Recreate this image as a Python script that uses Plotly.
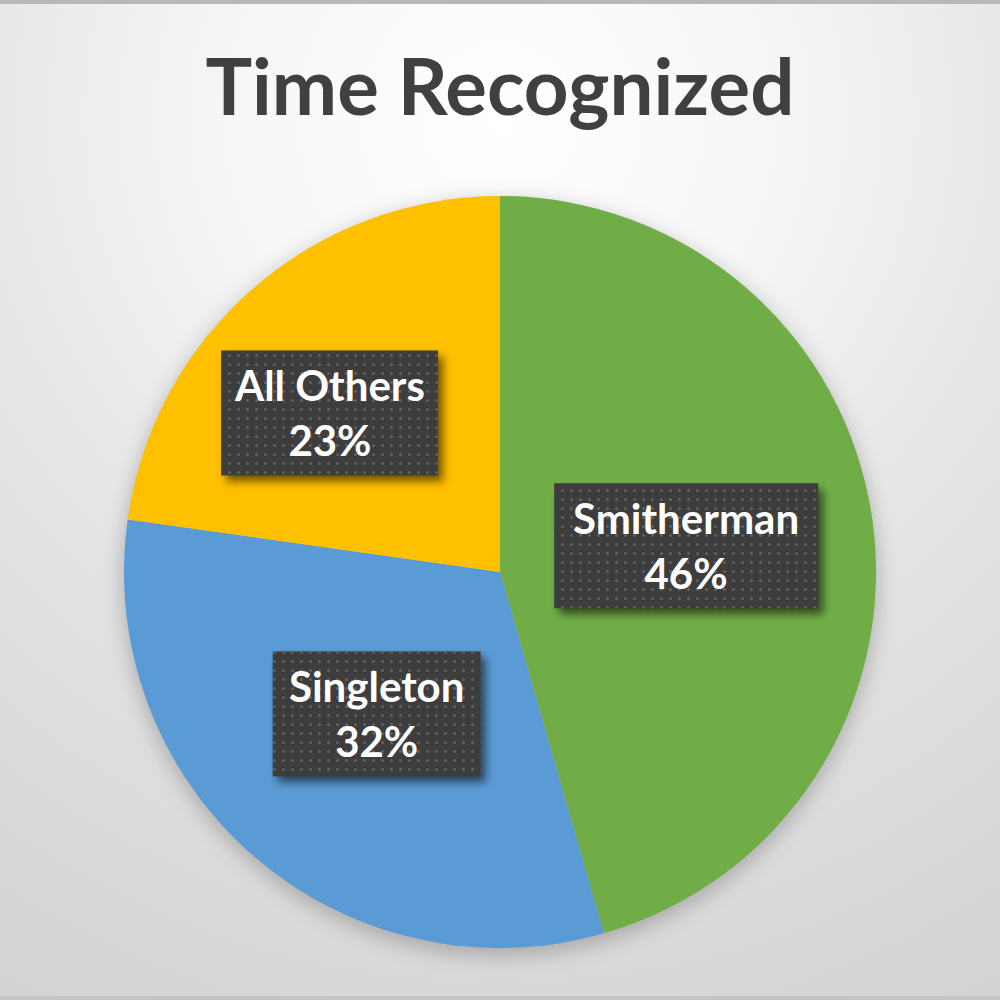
import math
import base64
import plotly.graph_objects as go

# ---- data ----
categories = ["Smitherman", "Singleton", "All Others"]
values = [46, 32, 23]
colors = ["#70ad47", "#5b9bd5", "#ffc000"]
title_text = "Time Recognized"

# ---- style ----
W = H = 1000
pie_x = [0.124, 0.876]
pie_y = [0.052, 0.804]
label_radius = [0.50, 0.50, 0.62]   # fraction of pie radius
label_nudge_deg = [0, 0, -6]
box_w = [264, 208, 217]             # label box sizes in px
box_h = 125
font_family = "Lato"

cx = (pie_x[0] + pie_x[1]) / 2
cy = (pie_y[0] + pie_y[1]) / 2
R = (pie_x[1] - pie_x[0]) / 2
cx_px, cy_px, r_px = cx * W, (1 - cy) * H, R * W

# label centres at slice mid-angles
total = sum(values)
cum = 0
label_pos = []
label_txt = []
for i, (lab, v) in enumerate(zip(categories, values)):
    frac = v / total
    mid = (cum + frac / 2) * 360 + label_nudge_deg[i]
    cum += frac
    ang = math.radians(mid)
    label_pos.append((cx + label_radius[i] * R * math.sin(ang),
                      cy + label_radius[i] * R * math.cos(ang)))
    label_txt.append(f"{lab}<br>{round(frac * 100)}%")

# background SVG: radial gradient + soft pie shadow + frame lines
svg_bg = f"""<svg xmlns='http://www.w3.org/2000/svg' width='{W}' height='{H}' viewBox='0 0 {W} {H}'>
<defs>
<radialGradient id='g' cx='500' cy='120' r='1000' gradientUnits='userSpaceOnUse'>
<stop offset='0' stop-color='#ffffff'/>
<stop offset='0.25' stop-color='#f7f7f7'/>
<stop offset='0.6' stop-color='#e3e3e3'/>
<stop offset='1' stop-color='#d3d3d3'/>
</radialGradient>
<filter id='b' x='-20%' y='-20%' width='140%' height='140%'><feGaussianBlur stdDeviation='10'/></filter>
</defs>
<rect width='{W}' height='{H}' fill='url(#g)'/>
<circle cx='{cx_px}' cy='{cy_px + 6}' r='{r_px + 2}' fill='rgba(0,0,0,0.22)' filter='url(#b)'/>
<rect x='0' y='0' width='{W}' height='4' fill='#b8b8b8'/>
<rect x='0' y='{H - 4}' width='{W}' height='4' fill='#c4c4c4'/>
</svg>"""

# foreground SVG: label boxes with dotted texture and drop shadows
parts = []
for (x, y), bw in zip(label_pos, box_w):
    px, py = x * W - bw / 2, (1 - y) * H - box_h / 2
    parts.append(f"<rect x='{px + 5}' y='{py + 6}' width='{bw}' height='{box_h}' fill='rgba(0,0,0,0.55)' filter='url(#s)'/>")
    parts.append(f"<rect x='{px}' y='{py}' width='{bw}' height='{box_h}' fill='#3d3d3d'/>")
    parts.append(f"<rect x='{px}' y='{py}' width='{bw}' height='{box_h}' fill='url(#d)'/>")
svg_fg = f"""<svg xmlns='http://www.w3.org/2000/svg' width='{W}' height='{H}' viewBox='0 0 {W} {H}'>
<defs>
<filter id='s' x='-20%' y='-20%' width='140%' height='140%'><feGaussianBlur stdDeviation='4'/></filter>
<pattern id='d' x='0' y='0' width='9' height='9' patternUnits='userSpaceOnUse'>
<circle cx='4.5' cy='4.5' r='1.5' fill='#616161'/>
</pattern>
</defs>
{''.join(parts)}
</svg>"""


def uri(s):
    return "data:image/svg+xml;base64," + base64.b64encode(s.encode()).decode()


fig = go.Figure()
fig.add_trace(go.Pie(
    labels=categories,
    values=values,
    marker=dict(colors=colors, line=dict(width=0)),
    sort=False,
    direction="clockwise",
    rotation=0,
    textinfo="none",
    hoverinfo="label+percent",
    showlegend=False,
    domain=dict(x=pie_x, y=pie_y),
))

annotations = [
    dict(x=x, y=y, xref="paper", yref="paper", text=t, showarrow=False,
         xanchor="center", yanchor="middle",
         font=dict(family=font_family, size=42, color="white", weight="bold"))
    for (x, y), t in zip(label_pos, label_txt)
]

fig.update_layout(
    width=W, height=H,
    margin=dict(l=0, r=0, t=0, b=0),
    paper_bgcolor="#ffffff",
    plot_bgcolor="rgba(0,0,0,0)",
    title=dict(text=title_text, x=0.5, xanchor="center", y=0.912, yanchor="middle",
               font=dict(family=font_family, size=78, color="#404040", weight="bold")),
    images=[
        dict(source=uri(svg_bg), xref="paper", yref="paper", x=0, y=1, sizex=1, sizey=1,
             xanchor="left", yanchor="top", sizing="stretch", layer="below"),
        dict(source=uri(svg_fg), xref="paper", yref="paper", x=0, y=1, sizex=1, sizey=1,
             xanchor="left", yanchor="top", sizing="stretch", layer="above"),
    ],
    annotations=annotations,
)

fig.write_html(
    "out.html",
    config={"displayModeBar": False},
    post_script="document.body.style.margin='0';document.body.style.overflow='hidden';",
)
